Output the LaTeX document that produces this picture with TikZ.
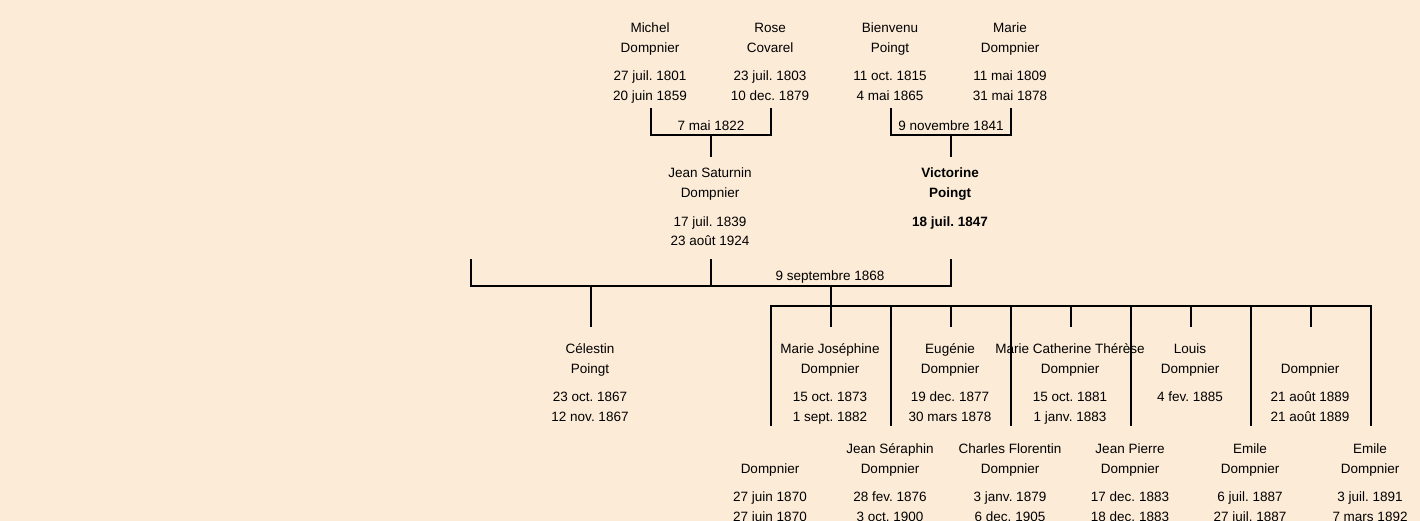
\documentclass[tikz,border=0pt]{standalone}
\usepackage{fontspec}
\setmainfont{Liberation Sans}
\frenchspacing
\definecolor{bg}{HTML}{FCEBD7}
\tikzset{
  txt/.style={anchor=base, inner sep=0pt, font=\fontsize{13.5}{16}\selectfont},
  ln/.style={line width=2pt, line join=miter, black}
}
\newcommand\person[7]{%
  \node[txt] (#1) at (#2,#3+1) {#4};
  \node[txt] (#1-n) at (#2,#3+21) {#5};
  \node[txt] (#1-b) at (#2,#3+49) {#6};
  \node[txt] (#1-d) at (#2,#3+69) {#7};
}
\begin{document}
\begin{tikzpicture}[x=1pt,y=-1pt]
\fill[bg] (0,0) rectangle (1420,521);
\useasboundingbox (0,0) rectangle (1420,521);
% generation 1
\person{michel}{650}{32}{Michel}{Dompnier}{27 juil. 1801}{20 juin 1859}
\person{rose}{770}{32}{Rose}{Covarel}{23 juil. 1803}{10 dec. 1879}
\person{bienvenu}{890}{32}{Bienvenu}{Poingt}{11 oct. 1815}{4 mai 1865}
\person{marie}{1010}{32}{Marie}{Dompnier}{11 mai 1809}{31 mai 1878}
% generation 2
\person{jean}{710}{177}{Jean Saturnin}{Dompnier}{17 juil. 1839}{23 août 1924}
\node[txt,font=\fontsize{13.5}{16}\selectfont\bfseries] (victorine) at (950,178) {Victorine};
\node[txt,font=\fontsize{13.5}{16}\selectfont\bfseries] (victorine-n) at (950,198) {Poingt};
\node[txt,font=\fontsize{13.5}{16}\selectfont\bfseries] (victorine-b) at (950,226) {18 juil. 1847};
% marriages
\node[txt] (mar1) at (711,131) {7 mai 1822};
\node[txt] (mar2) at (951,131) {9 novembre 1841};
\node[txt] (mar3) at (830,280) {9 septembre 1868};
% children
\person{celestin}{590}{352}{Célestin}{Poingt}{23 oct. 1867}{12 nov. 1867}
\person{c1}{770}{452}{}{Dompnier}{27 juin 1870}{27 juin 1870}
\person{c2}{830}{352}{Marie Joséphine}{Dompnier}{15 oct. 1873}{1 sept. 1882}
\person{c3}{890}{452}{Jean Séraphin}{Dompnier}{28 fev. 1876}{3 oct. 1900}
\person{c4}{950}{352}{Eugénie}{Dompnier}{19 dec. 1877}{30 mars 1878}
\person{c5}{1010}{452}{Charles Florentin}{Dompnier}{3 janv. 1879}{6 dec. 1905}
\person{c6}{1070}{352}{Marie Catherine Thérèse}{Dompnier}{15 oct. 1881}{1 janv. 1883}
\person{c7}{1130}{452}{Jean Pierre}{Dompnier}{17 dec. 1883}{18 dec. 1883}
\person{c8}{1190}{352}{Louis}{Dompnier}{4 fev. 1885}{}
\person{c9}{1250}{452}{Emile}{Dompnier}{6 juil. 1887}{27 juil. 1887}
\person{c10}{1310}{352}{}{Dompnier}{21 août 1889}{21 août 1889}
\person{c11}{1370}{452}{Emile}{Dompnier}{3 juil. 1891}{7 mars 1892}
% connector coordinates
\coordinate (michelL) at (651,108); \coordinate (roseL) at (771,108);
\coordinate (m1a) at (651,135); \coordinate (m1b) at (771,135);
\coordinate (m1c) at (711,135); \coordinate (jeanT) at (711,157);
\coordinate (bienL) at (891,108); \coordinate (marieL) at (1011,108);
\coordinate (m2a) at (891,135); \coordinate (m2b) at (1011,135);
\coordinate (m2c) at (951,135); \coordinate (victT) at (951,157);
\coordinate (spouseL) at (471,259); \coordinate (jeanL) at (711,259); \coordinate (victL) at (951,259);
\coordinate (m3a) at (471,286); \coordinate (m3j) at (711,286); \coordinate (m3b) at (951,286);
\coordinate (m3c) at (591,286); \coordinate (celT) at (591,327);
\coordinate (m3d) at (831,286); \coordinate (barC) at (831,306);
\coordinate (barL) at (771,306); \coordinate (barR) at (1371,306);
\foreach \x in {771,891,1011,1131,1251,1371} {
  \coordinate (t\x) at (\x,306); \coordinate (e\x) at (\x,426);
}
\foreach \x in {831,951,1071,1191,1311} {
  \coordinate (t\x) at (\x,306); \coordinate (e\x) at (\x,327);
}
% connectors
\draw[ln] (michelL) -- (m1a) -- (m1b) -- (roseL);
\draw[ln] (m1c) -- (jeanT);
\draw[ln] (bienL) -- (m2a) -- (m2b) -- (marieL);
\draw[ln] (m2c) -- (victT);
\draw[ln] (spouseL) -- (m3a) -- (m3b) -- (victL);
\draw[ln] (jeanL) -- (m3j);
\draw[ln] (m3c) -- (celT);
\draw[ln] (m3d) -- (barC);
\draw[ln] (e771) -- (barL) -- (barR) -- (e1371);
\foreach \x in {891,1011,1131,1251,831,951,1071,1191,1311} {
  \draw[ln] (t\x) -- (e\x);
}
\end{tikzpicture}
\end{document}
